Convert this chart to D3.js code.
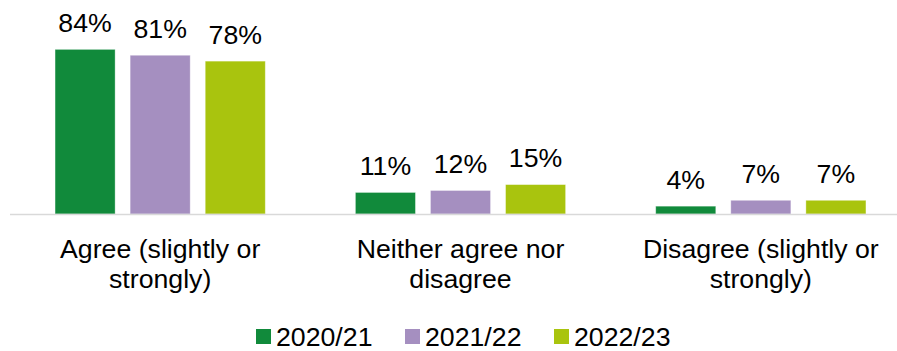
<!DOCTYPE html>
<html>
<head>
<meta charset="utf-8">
<script src="https://cdn.jsdelivr.net/npm/d3@7/dist/d3.min.js"></script>
<style>
  html, body { margin: 0; padding: 0; background: #ffffff; }
  svg { display: block; font-family: "Liberation Sans", Arial, sans-serif; }
</style>
</head>
<body>
<svg id="chart" width="897" height="351"></svg>
<script>
// Survey responses by year
const categories = ["Agree (slightly or strongly)", "Neither agree nor disagree", "Disagree (slightly or strongly)"];
const seriesNames = ["2020/21", "2021/22", "2022/23"];
const values2020 = [84, 11, 4];
const values2021 = [81, 12, 7];
const values2022 = [78, 15, 7];
const seriesColors = ["#118a3b", "#a58fc0", "#a9c40e"];

const seriesValues = [values2020, values2021, values2022];
const rows = categories.map((c, i) => ({
  category: c,
  values: seriesNames.map((s, j) => ({ series: s, value: seriesValues[j][i] }))
}));

const svg = d3.select("#chart");
const fontSize = 26.7;

const x0 = d3.scaleBand().domain(categories).range([10, 911]).paddingInner(0.3).paddingOuter(0.15);
const x1 = d3.scaleBand().domain(seriesNames).range([0, x0.bandwidth()]).paddingInner(0.2).paddingOuter(0);
const y = d3.scaleLinear().domain([0, 100]).range([214, 18]);
const color = d3.scaleOrdinal().domain(seriesNames).range(seriesColors);

const groups = svg.append("g").selectAll("g")
  .data(rows).join("g")
  .attr("transform", d => `translate(${x0(d.category)},0)`);

groups.selectAll("rect")
  .data(d => d.values).join("rect")
  .attr("x", d => x1(d.series))
  .attr("y", d => y(d.value))
  .attr("width", x1.bandwidth())
  .attr("height", d => y(0) - y(d.value))
  .attr("fill", d => color(d.series))
  .attr("stroke", "rgba(255,255,255,0.45)")
  .attr("stroke-width", 0.8);

// value labels above bars
groups.selectAll("text.value")
  .data(d => d.values).join("text")
  .attr("class", "value")
  .attr("x", d => x1(d.series) + x1.bandwidth() / 2)
  .attr("y", d => y(d.value) - 17.5)
  .attr("text-anchor", "middle")
  .attr("font-size", fontSize)
  .attr("fill", "#000")
  .text(d => d.value + "%");

// category axis baseline
const xAxis = d3.axisBottom(x0).tickSize(0).tickFormat("");
const axisG = svg.append("g").attr("transform", "translate(0,214.5)").call(xAxis);
axisG.select(".domain").attr("stroke", "#d9d9d9").attr("stroke-width", 1.5)
  .attr("d", "M10,0H897");

// wrapped category labels
function wrapWords(text, maxWidth) {
  const words = text.split(" ");
  const lines = [];
  let line = "";
  const probe = svg.append("text").attr("font-size", fontSize).attr("visibility", "hidden");
  words.forEach(w => {
    const test = line ? line + " " + w : w;
    probe.text(test);
    if (probe.node().getComputedTextLength() > maxWidth && line) {
      lines.push(line);
      line = w;
    } else {
      line = test;
    }
  });
  if (line) lines.push(line);
  probe.remove();
  return lines;
}

categories.forEach(c => {
  const lines = wrapWords(c, 260);
  const t = svg.append("text")
    .attr("text-anchor", "middle")
    .attr("font-size", fontSize)
    .attr("fill", "#000");
  lines.forEach((ln, i) => {
    t.append("tspan")
      .attr("x", x0(c) + x0.bandwidth() / 2)
      .attr("y", 257.5 + i * 30.8)
      .text(ln);
  });
});

// legend
const legendX = [256, 405, 554];
const legend = svg.append("g").selectAll("g")
  .data(seriesNames).join("g")
  .attr("transform", (d, i) => `translate(${legendX[i]},0)`);
legend.append("rect")
  .attr("x", 0).attr("y", 329)
  .attr("width", 15).attr("height", 15)
  .attr("fill", d => color(d));
legend.append("text")
  .attr("x", 20).attr("y", 345.5)
  .attr("font-size", fontSize)
  .attr("fill", "#000")
  .text(d => d);
</script>
</body>
</html>
